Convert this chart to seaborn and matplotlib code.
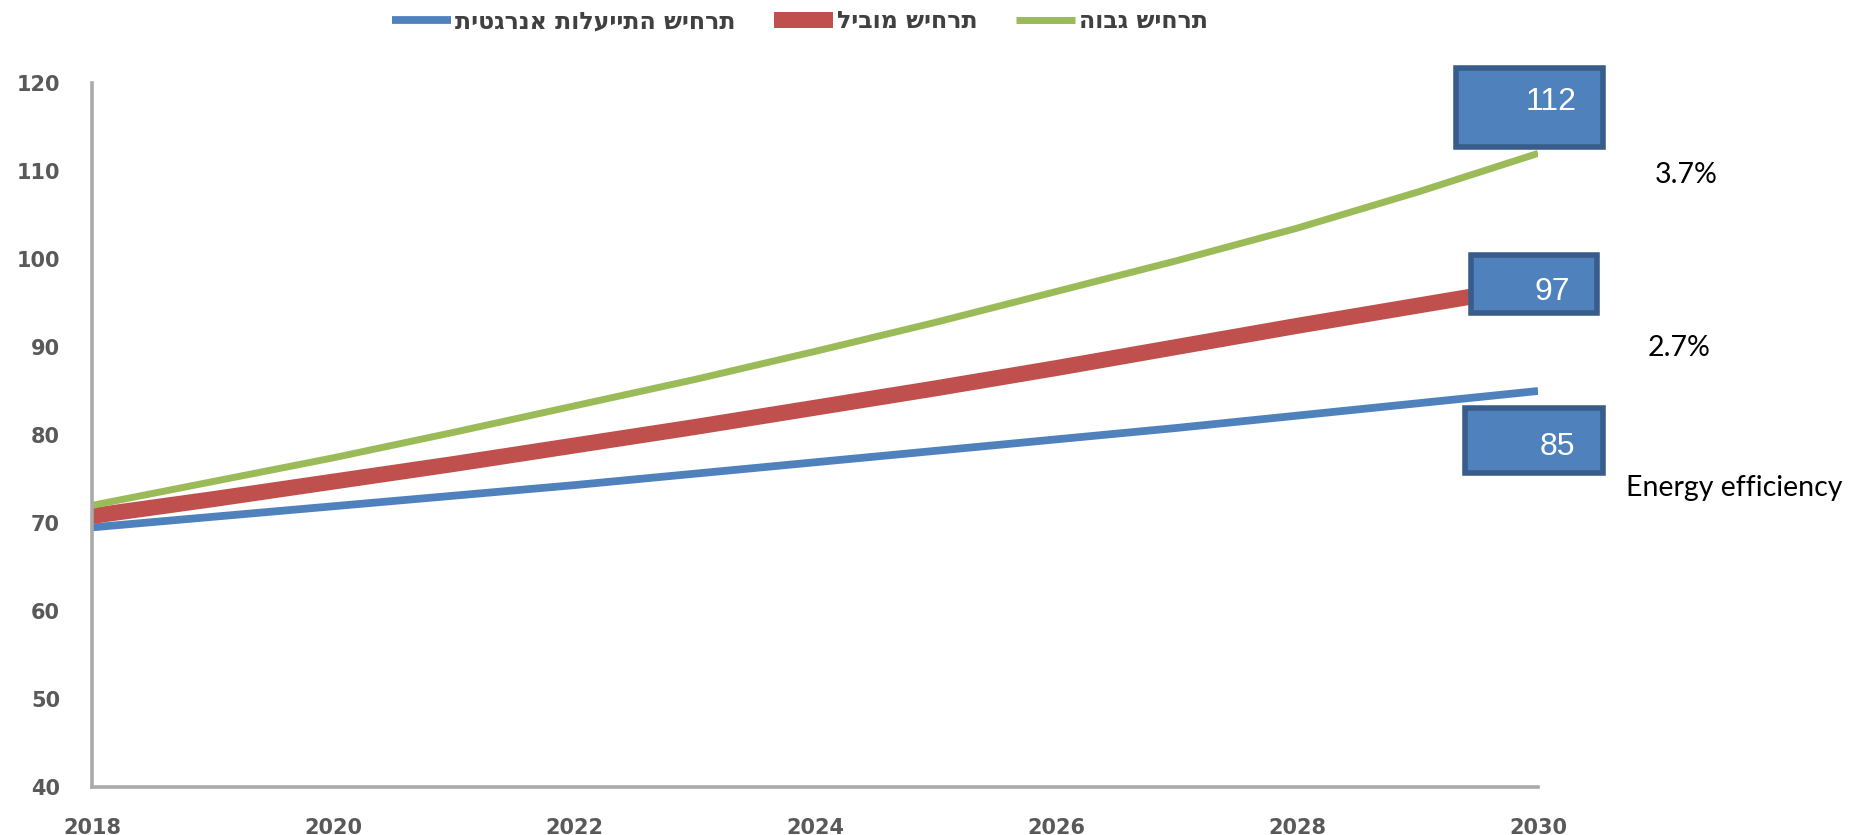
import matplotlib
matplotlib.use("Agg")
import matplotlib.pyplot as plt
from matplotlib.patches import Rectangle
import numpy as np
import pandas as pd
import seaborn as sns

# ---- data -------------------------------------------------------------
years = list(range(2018, 2031))
efficiency = [69.5, 70.7, 71.9, 73.1, 74.3, 75.6, 76.9, 78.2, 79.5, 80.8, 82.2, 83.6, 85.0]
leading = [70.8, 72.7, 74.7, 76.7, 78.8, 80.9, 83.1, 85.3, 87.6, 90.0, 92.4, 94.7, 97.0]
high = [72.0, 74.7, 77.4, 80.3, 83.3, 86.3, 89.5, 92.8, 96.3, 99.8, 103.5, 107.6, 112.0]

scenario_names = ["תרחיש התייעלות אנרגטית", "תרחיש מוביל", "תרחיש גבוה"]
scenario_colors = ["#4f81bd", "#c0504d", "#9bbb59"]
end_labels = ["85", "97", "112"]
growth_labels = ["3.7%", "2.7%", "Energy efficiency"]
y_ticks = list(range(40, 121, 10))
x_ticks = list(range(2018, 2031, 2))


def visual(s):
    """Hebrew is stored in logical order; matplotlib lays glyphs left-to-right."""
    return s[::-1] if any("\u0590" <= c <= "\u05ff" for c in s) else s


df = pd.DataFrame({
    "year": years * 3,
    "value": efficiency + leading + high,
    "scenario": [scenario_names[0]] * len(years)
    + [scenario_names[1]] * len(years)
    + [scenario_names[2]] * len(years),
})

W, H = 1857, 835
DPI = 100
sns.set_style("white")
fig = plt.figure(figsize=(W / DPI, H / DPI), dpi=DPI)
ax = fig.add_axes([92 / W, 1 - 787 / H, (1538 - 92) / W, (787 - 83) / H])


def fp(x, y):
    return (x / W, 1 - y / H)


sns.lineplot(
    data=df, x="year", y="value",
    hue="scenario", hue_order=scenario_names,
    palette=dict(zip(scenario_names, scenario_colors)),
    size="scenario", size_order=scenario_names,
    sizes=dict(zip(scenario_names, [5.6, 11.5, 5.0])),
    ax=ax, legend=True,
)
for ln in ax.get_lines():
    ln.set_solid_capstyle("butt")

ax.set_xlim(2018, 2030)
ax.set_ylim(40, 120)
ax.set_xticks(x_ticks)
ax.set_yticks(y_ticks)
ax.set_xlabel("")
ax.set_ylabel("")

tick_font = dict(family=["DejaVu Sans"], weight="bold", size=15)
ax.set_xticklabels([str(y) for y in x_ticks], color="#595959", **tick_font)
ax.set_yticklabels([str(v) for v in y_ticks], color="#595959", **tick_font)
ax.tick_params(axis="both", length=0)
ax.tick_params(axis="x", pad=22)
ax.tick_params(axis="y", pad=23)

for side in ["top", "right"]:
    ax.spines[side].set_visible(False)
for side in ["left", "bottom"]:
    ax.spines[side].set_color("#aaaaaa")
    ax.spines[side].set_linewidth(2.6)

# legend across the top
handles, labels = ax.get_legend_handles_labels()
ax.get_legend().remove()
leg = fig.legend(
    handles, [visual(l) for l in labels],
    loc="center", bbox_to_anchor=fp(800, 21), ncol=3, frameon=False,
    handlelength=2.5, handletextpad=0.2, columnspacing=1.6,
    prop=dict(family=["DejaVu Sans"], weight="bold", size=17),
)
for t in leg.get_texts():
    t.set_color("#404040")

# value boxes at the line ends
boxes = [
    (1465, 408, 1603, 473, 1575, 447),   # 85
    (1471, 255, 1597, 313, 1570, 292),   # 97
    (1456, 68, 1603, 147, 1577, 102),    # 112
]
for (x0, y0, x1, y1, tx, ty), lab in zip(boxes, end_labels):
    fig.patches.append(Rectangle(fp(x0, y1), (x1 - x0) / W, (y1 - y0) / H,
                                 transform=fig.transFigure, facecolor="#4f81bd",
                                 edgecolor="#385d8a", linewidth=4.0, zorder=5))
    fig.text(*fp(tx, ty), lab, ha="right", va="center", color="white",
             family=["Liberation Sans", "DejaVu Sans"], size=23, zorder=6)

# growth notes on the right
notes_pos = [(1655, 175), (1648, 348), (1626, 488)]
for (x, y), lab in zip(notes_pos, growth_labels):
    fig.text(*fp(x, y), lab, ha="left", va="center", color="black",
             family=["Lato", "DejaVu Sans"], size=20.5)

fig.savefig("out.png", dpi=DPI)
